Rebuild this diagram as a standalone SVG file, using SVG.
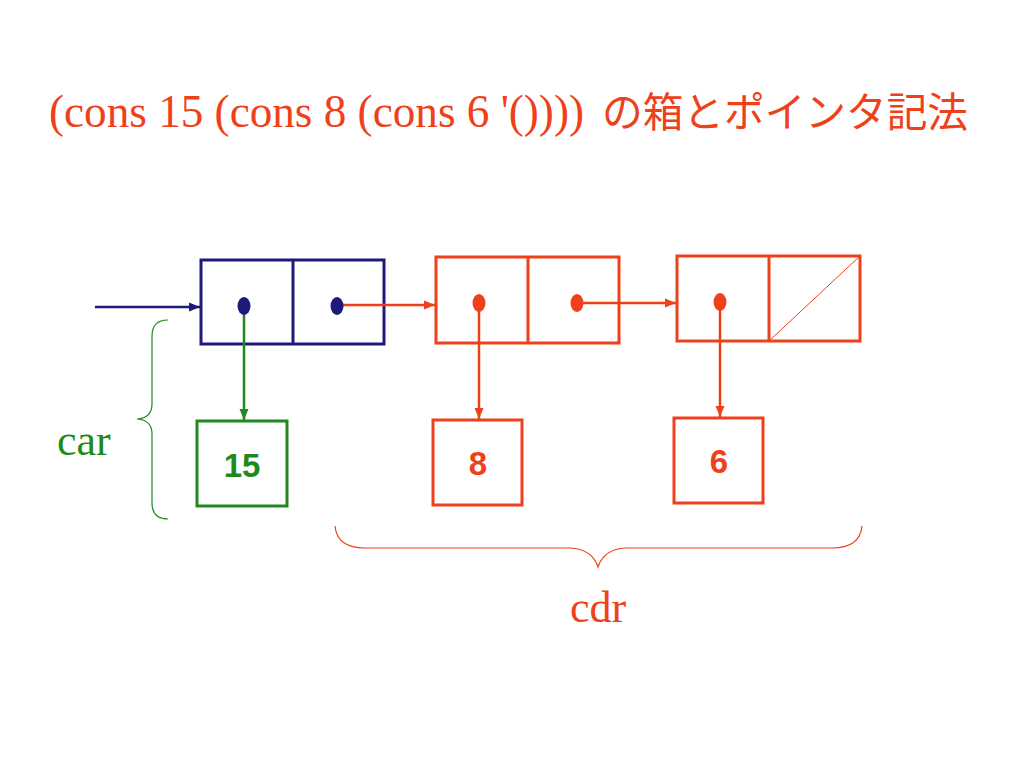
<svg xmlns="http://www.w3.org/2000/svg" width="1024" height="768" viewBox="0 0 1024 768">
<defs>
<style>
.red{stroke:#F0401A;fill:none;stroke-width:3}
.blue{stroke:#1E1A7A;fill:none;stroke-width:3}
.green{stroke:#1E8A1E;fill:none;stroke-width:3}
.lred{stroke:#F0401A;stroke-width:2.5;fill:none}
.lblue{stroke:#1E1A7A;stroke-width:2.5;fill:none}
.lgreen{stroke:#1E8A1E;stroke-width:2.5;fill:none}
.serif{font-family:"Liberation Serif","Times New Roman",serif}
.num{font-family:"Liberation Sans",Arial,sans-serif;font-weight:bold;font-size:33px;text-anchor:middle}
</style>
<marker id="aRed" markerUnits="userSpaceOnUse" markerWidth="12" markerHeight="10" refX="11" refY="5" orient="auto"><path d="M0,0.5 L11,5 L0,9.5 z" fill="#F0401A"/></marker>
<marker id="aBlue" markerUnits="userSpaceOnUse" markerWidth="12" markerHeight="10" refX="11" refY="5" orient="auto"><path d="M0,0.5 L11,5 L0,9.5 z" fill="#1E1A7A"/></marker>
<marker id="aGreen" markerUnits="userSpaceOnUse" markerWidth="12" markerHeight="10" refX="11" refY="5" orient="auto"><path d="M0,0.5 L11,5 L0,9.5 z" fill="#1E8A1E"/></marker>
</defs>
<rect width="1024" height="768" fill="#FFFFFF"/>
<g id="title">
<text class="serif" x="49" y="127" font-size="46" fill="#F0401A" textLength="535" lengthAdjust="spacingAndGlyphs">(cons 15 (cons 8 (cons 6 '())))</text>
<text x="602" y="127" font-size="41" fill="#F0401A" font-family="'Noto Sans CJK JP','Noto Sans CJK SC',sans-serif" textLength="366" lengthAdjust="spacingAndGlyphs">の箱とポインタ記法</text>
</g>
<g id="cell1">
<rect class="blue" x="201" y="260" width="183" height="84"/>
<line class="blue" x1="293" y1="260" x2="293" y2="344"/>
</g>
<g id="cell2">
<rect class="red" x="436" y="257" width="183" height="86"/>
<line class="red" x1="528" y1="257" x2="528" y2="343"/>
</g>
<g id="cell3">
<rect class="red" x="677" y="256" width="183" height="85"/>
<line class="red" x1="769" y1="256" x2="769" y2="341"/>
<line x1="769" y1="341" x2="860" y2="256" stroke="#F0401A" stroke-width="1"/>
</g>
<g id="atom15">
<rect class="green" x="197" y="421" width="90" height="85"/>
<text class="num" x="242" y="477" fill="#1E8A1E">15</text>
</g>
<g id="atom8">
<rect class="red" x="433" y="420" width="89" height="85"/>
<text class="num" x="478" y="475" fill="#F0401A">8</text>
</g>
<g id="atom6">
<rect class="red" x="674" y="418" width="89" height="85"/>
<text class="num" x="719" y="473" fill="#F0401A">6</text>
</g>
<g id="connectors">
<line class="lblue" x1="95" y1="307" x2="200" y2="307" marker-end="url(#aBlue)"/>
<line class="lgreen" x1="244" y1="306" x2="244" y2="420" marker-end="url(#aGreen)"/>
<line class="lred" x1="337" y1="305" x2="435" y2="305" marker-end="url(#aRed)"/>
<line class="lred" x1="479" y1="303" x2="479" y2="419" marker-end="url(#aRed)"/>
<line class="lred" x1="577" y1="303" x2="676" y2="303" marker-end="url(#aRed)"/>
<line class="lred" x1="720" y1="302" x2="720" y2="417" marker-end="url(#aRed)"/>
</g>
<g id="dots">
<ellipse cx="244" cy="306" rx="6.5" ry="9" fill="#1E1A7A"/>
<ellipse cx="337" cy="306" rx="6.5" ry="9" fill="#1E1A7A"/>
<ellipse cx="479" cy="303" rx="6.5" ry="9" fill="#F0401A"/>
<ellipse cx="577" cy="303" rx="6.5" ry="9" fill="#F0401A"/>
<ellipse cx="720" cy="302" rx="6.5" ry="9" fill="#F0401A"/>
</g>
<g id="carLabel">
<path d="M168,320 Q152,320 152,336 L152,404 Q152,418 137,419 Q152,420 152,434 L152,503 Q152,519 168,519" fill="none" stroke="#1E8A1E" stroke-width="1.2"/>
<text class="serif" x="57" y="455" font-size="44" fill="#1E8A1E">car</text>
</g>
<g id="cdrLabel">
<path d="M335,526 Q337,548 365,548 L570,548 Q592,549 598,567 Q604,549 626,548 L832,548 Q860,548 862,526" fill="none" stroke="#F0401A" stroke-width="1.2"/>
<text class="serif" x="598" y="622" font-size="44" fill="#F0401A" text-anchor="middle">cdr</text>
</g>
</svg>
